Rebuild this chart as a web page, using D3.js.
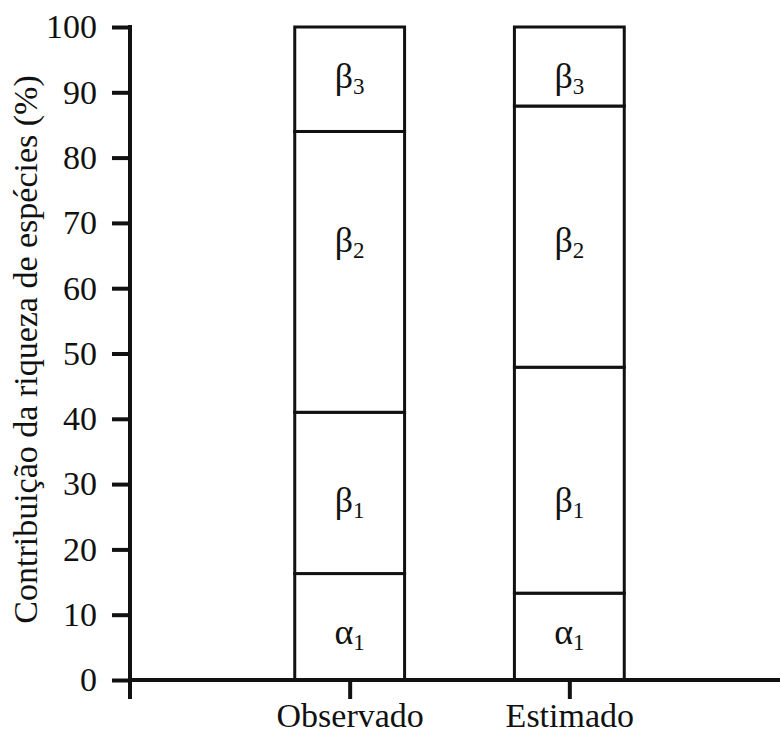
<!doctype html>
<html lang="pt">
<head>
    <meta charset="utf-8">
    <title>Contribuição da riqueza de espécies</title>
    <script src="https://cdnjs.cloudflare.com/ajax/libs/d3/7.8.5/d3.min.js"></script>
    <style>
        body { margin: 0; background: #fff; }
        svg text { font-family: "Liberation Serif", "DejaVu Serif", serif; }
    </style>
</head>
<body>
    <div id="chart"></div>
    <script>
        // categories on the x axis
        var categories = ["Observado", "Estimado"];

        // stacked components, bottom to top
        var components = ["a1", "b1", "b2", "b3"];
        var letters = ["α", "β", "β", "β"];
        var subscripts = ["1", "1", "2", "3"];

        // share of each component (%)
        var observado = [16.3, 24.7, 43.0, 16.0];
        var estimado = [13.3, 34.6, 40.0, 12.1];

        // level (in % units) where each component label sits
        var labelLevels = [5.5, 25.8, 65.6, 90.7];

        var yTicks = [0, 10, 20, 30, 40, 50, 60, 70, 80, 90, 100];

        var width = 780, height = 735;
        var ink = "#111";

        var rows = [observado, estimado].map(function(vals, i) {
            var r = { cat: categories[i] };
            components.forEach(function(k, j) { r[k] = vals[j]; });
            return r;
        });

        var series = d3.stack().keys(components)(rows);

        var y = d3.scaleLinear()
            .domain([0, 100])
            .range([680, 27]);

        var x = d3.scalePoint()
            .domain(categories)
            .range([130, 789])
            .padding(1);

        var barW = x.step() * 0.5;

        var svg = d3.select("#chart")
            .append("svg")
            .attr("width", width)
            .attr("height", height);

        // bars: one rect per stacked segment
        var layer = svg.selectAll("g.layer")
            .data(series)
            .enter()
            .append("g")
            .attr("class", "layer");

        layer.selectAll("rect")
            .data(function(d) { return d; })
            .enter()
            .append("rect")
            .attr("x", function(d) { return x(d.data.cat) - barW / 2; })
            .attr("y", function(d) { return y(d[1]); })
            .attr("width", barW)
            .attr("height", function(d) { return y(d[0]) - y(d[1]); })
            .attr("fill", "#fff")
            .attr("stroke", ink)
            .attr("stroke-width", 3);

        // component labels
        series.forEach(function(s, i) {
            categories.forEach(function(c) {
                var t = svg.append("text")
                    .attr("x", x(c))
                    .attr("y", y(labelLevels[i]))
                    .attr("text-anchor", "middle")
                    .attr("fill", ink)
                    .attr("font-size", 36);
                t.append("tspan").text(letters[i]);
                t.append("tspan")
                    .attr("dy", 6)
                    .attr("font-size", 23)
                    .text(subscripts[i]);
            });
        });

        // y axis
        var yAxis = d3.axisLeft(y)
            .tickValues(yTicks)
            .tickSize(18)
            .tickPadding(15)
            .tickSizeOuter(0);

        var gy = svg.append("g")
            .attr("transform", "translate(130,0)")
            .call(yAxis)
            .attr("font-family", null)
            .attr("font-size", 34);
        gy.select(".domain").remove();
        gy.selectAll("line").attr("stroke", ink).attr("stroke-width", 4);
        gy.selectAll("text").attr("fill", ink);

        gy.append("line")
            .attr("x1", 0).attr("x2", 0)
            .attr("y1", y(100) - 2)
            .attr("y2", y(0) + 19)
            .attr("stroke", ink)
            .attr("stroke-width", 4);

        // x axis
        var xAxis = d3.axisBottom(x)
            .tickSize(19)
            .tickPadding(4)
            .tickSizeOuter(0);

        var gx = svg.append("g")
            .attr("transform", "translate(0," + y(0) + ")")
            .call(xAxis)
            .attr("font-family", null)
            .attr("font-size", 34);
        gx.select(".domain").remove();
        gx.selectAll("line").attr("stroke", ink).attr("stroke-width", 4);
        gx.selectAll("text").attr("fill", ink);

        gx.append("line")
            .attr("x1", 128).attr("x2", width)
            .attr("y1", 0).attr("y2", 0)
            .attr("stroke", ink)
            .attr("stroke-width", 4);

        // y axis title
        svg.append("text")
            .attr("transform", "translate(37," + ((y(100) + y(0)) / 2 - 4) + ") rotate(-90)")
            .attr("text-anchor", "middle")
            .attr("fill", ink)
            .attr("font-size", 34)
            .text("Contribuição da riqueza de espécies (%)");
    </script>
</body>
</html>
